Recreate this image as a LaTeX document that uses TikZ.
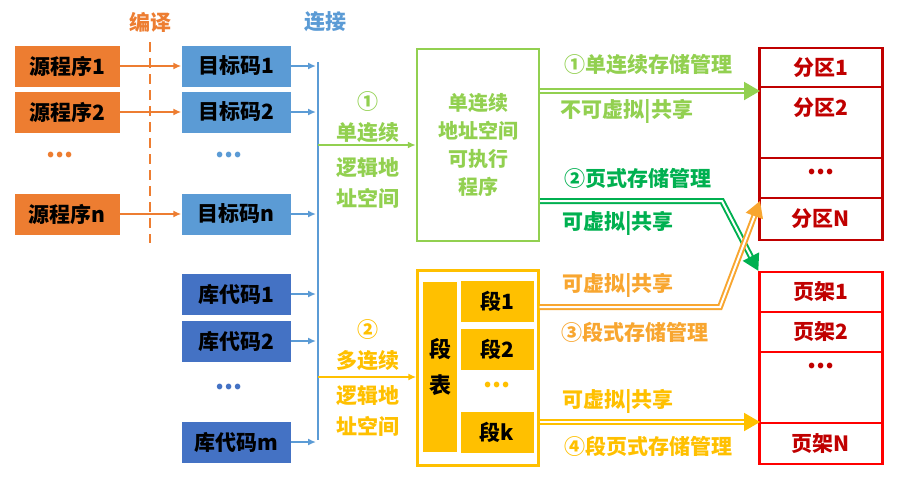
\documentclass[tikz,border=0pt]{standalone}
\usepackage{fontspec}
\setmainfont{Noto Sans CJK SC}
\usetikzlibrary{arrows.meta}
\definecolor{src}{HTML}{ED7D31}
\definecolor{obj}{HTML}{5B9BD5}
\definecolor{lib}{HTML}{4472C4}
\definecolor{lgreen}{HTML}{92D050}
\definecolor{dgreen}{HTML}{00B050}
\definecolor{gold}{HTML}{FFC000}
\definecolor{amber}{HTML}{F8A630}
\definecolor{dred}{HTML}{C00000}
\tikzset{
  box/.style={minimum width=#1, minimum height=41pt, inner sep=0pt, font=\fontsize{21}{21}\selectfont\bfseries},
  lab/.style={font=\fontsize{21}{24}\selectfont\bfseries, inner sep=0pt, align=center},
  dots/.style={font=\fontsize{26}{26}\selectfont\bfseries, inner sep=0pt},
  feed/.style={-{Latex[length=8pt,width=7pt]}, line width=2.4pt},
  dbl/.style={double=white, double distance=2pt, line width=2pt, draw=#1, -{Triangle[length=16pt,width=18pt]}}
}
\begin{document}
\begin{tikzpicture}[x=1pt,y=-1pt]
\useasboundingbox (0,0) rectangle (905,483);
% sources and object code
\foreach \n/\y in {1/66,2/112,n/214}{
  \node[box=105pt, fill=src] (src\n) at (67,\y) {源程序\n};
  \node[box=109pt, fill=obj] (obj\n) at (236,\y) {目标码\n};
  \draw[feed, src] (src\n) -- (obj\n);
  \coordinate (b\n) at (316,\y);
  \draw[feed, obj] (obj\n) -- (b\n);
}
\foreach \n/\y in {1/294,2/341,m/442}{
  \node[box=109pt, fill=lib] (lib\n) at (236,\y) {库代码\n};
  \coordinate (c\n) at (316,\y);
  \draw[feed, obj] (lib\n) -- (c\n);
}
\node[dots, src] at (60,155) {...};
\node[dots, obj] at (229,155) {...};
\node[dots, lib] at (229,387) {...};
\draw[src, line width=2.4pt, dash pattern=on 10pt off 6pt] (150,42) -- (150,243);
\node[lab, src] (compile) at (150,22) {编译};
\node[lab, obj] (link) at (325,22) {连接};
\coordinate (bustop) at (318,62);
\coordinate (busbot) at (318,440);
\draw[obj, line width=2.4pt] (bustop) -- (busbot);
% logical address spaces
\node[draw=lgreen, line width=2.4pt, minimum width=122pt, minimum height=192pt, inner sep=0pt] (exe) at (478,145) {};
\node[lab, lgreen, font=\fontsize{20}{28}\selectfont\bfseries] at (exe) {单连续\\地址空间\\可执行\\程序};
\node[lab, lgreen, font=\fontsize{21}{31}\selectfont\bfseries] at (368,150) {①\\单连续\\[4pt]逻辑地\\址空间};
\coordinate (g) at (318,145);
\draw[feed, lgreen] (g) -- (exe.west |- g);
\node[draw=gold, line width=2.4pt, minimum width=121pt, minimum height=195pt, inner sep=0pt] (seg) at (478,368) {};
\node[lab, gold, font=\fontsize{21}{31}\selectfont\bfseries] at (368,378) {②\\多连续\\[4pt]逻辑地\\址空间};
\coordinate (o) at (318,377);
\draw[feed, gold] (o) -- (seg.west |- o);
\node[fill=gold, minimum width=34pt, minimum height=170pt, inner sep=0pt, lab, text=black, font=\fontsize{22}{36}\selectfont\bfseries] (tab) at (440,367) {段\\表};
\foreach \n/\y in {1/301,2/349,k/432}
  \node[box=73pt, fill=gold] (seg\n) at (497,\y) {段\n};
\node[dots, gold] at (497,385) {...};
% memory
\node[draw=dred, line width=2.4pt, minimum width=123pt, minimum height=192pt, inner sep=0pt] (part) at (821,144) {};
\draw[dred, line width=2.4pt] (760,87) -- (883,87) (760,158) -- (883,158) (760,198) -- (883,198);
\node[lab, dred] (part1) at (821,68) {分区1};
\node[lab, dred] (part2) at (821,108) {分区2};
\node[dots, dred] at (821,172) {...};
\node[lab, dred] (partN) at (821,219) {分区N};
\node[draw=red, line width=2.4pt, minimum width=123pt, minimum height=192pt, inner sep=0pt] (frame) at (821,368) {};
\draw[red, line width=2.4pt] (760,312) -- (883,312) (760,352) -- (883,352) (760,423) -- (883,423);
\node[lab, dred] (frame1) at (821,292) {页架1};
\node[lab, dred] (frame2) at (821,332) {页架2};
\node[dots, dred] at (821,366) {...};
\node[lab, dred] (frameN) at (821,444) {页架N};
% management schemes
\coordinate (p1) at (760,91);
\draw[dbl=lgreen] (exe.east |- p1) -- (p1);
\node[lab, lgreen] at (648,65) {①单连续存储管理};
\node[lab, lgreen] at (627,111) {不可虚拟|共享};
\coordinate (k2) at (722,201);
\draw[dbl=dgreen] (exe.east |- k2) -- (k2) -- (frame.north west);
\node[lab, dgreen] at (638,178) {②页式存储管理};
\node[lab, dgreen] at (618,223) {可虚拟|共享};
\coordinate (k3) at (720,307);
\draw[dbl=amber] (seg.east |- k3) -- (k3) -- (760,201);
\node[lab, amber] at (618,285) {可虚拟|共享};
\node[lab, amber] at (635,332) {③段式存储管理};
\coordinate (p4) at (760,422);
\draw[dbl=gold] (seg.east |- p4) -- (p4);
\node[lab, gold] at (618,401) {可虚拟|共享};
\node[lab, gold] at (648,446) {④段页式存储管理};
\end{tikzpicture}
\end{document}
